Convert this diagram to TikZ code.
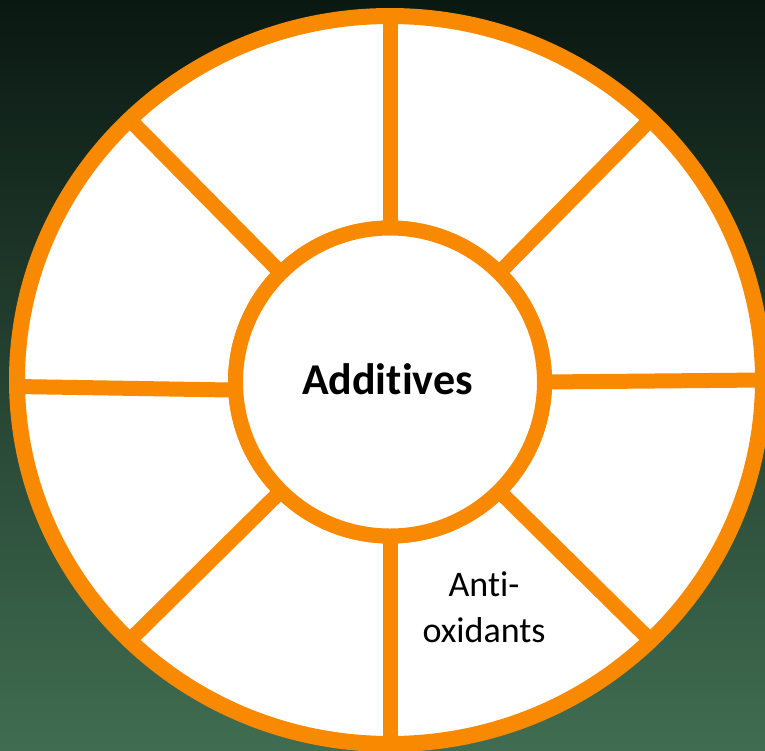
\documentclass[tikz,border=0pt]{standalone}
\usepackage{fontspec}
\setmainfont{Carlito}[Ligatures={NoCommon}]
\usetikzlibrary{shapes.geometric}
\definecolor{ringorange}{RGB}{248,137,0}
\definecolor{bgtop}{RGB}{10,24,18}
\definecolor{bgmid}{RGB}{34,74,54}
\definecolor{bgbot}{RGB}{64,109,81}
\newcommand{\nolig}{\kern0pt{}}
\tikzset{
  ring/.style={shape=ellipse, draw=ringorange, fill=white, inner sep=0pt, outer sep=0pt},
  spoke/.style={draw=ringorange, line width=15pt},
  label/.style={text=black, align=center, inner sep=0pt}
}
\begin{document}
\begin{tikzpicture}[x=1pt, y=-1pt]
\useasboundingbox (0,0) rectangle (765,750);
\clip (0,0) rectangle (765,750);
\shade[top color=bgtop, middle color=bgmid, bottom color=bgbot] (0,0) rectangle (765,750);
\node[ring, line width=16pt, minimum width=746pt, minimum height=728pt] (outer) at (390,380) {};
\node[ring, line width=15pt, minimum width=309pt, minimum height=308pt] (inner) at (390,382) {};
\foreach \a/\b in {90/90, 45/45, 0/0, -45/-45, -90/-90, -135/-135, 135/135, 183/181.7} {
  \draw[spoke] (inner.\a) -- (outer.\b);
}
\node[ring, line width=15pt, minimum width=309pt, minimum height=308pt] (innertop) at (390,382) {};
\node[label, anchor=base, font=\fontsize{44}{50}\selectfont\bfseries] (additives) at (387.5,394) {Addit\nolig ives};
\node[label, anchor=base, font=\fontsize{36}{46}\selectfont] (antiox) at (484,642) {Ant\nolig i-\\oxidants};
\end{tikzpicture}
\end{document}
